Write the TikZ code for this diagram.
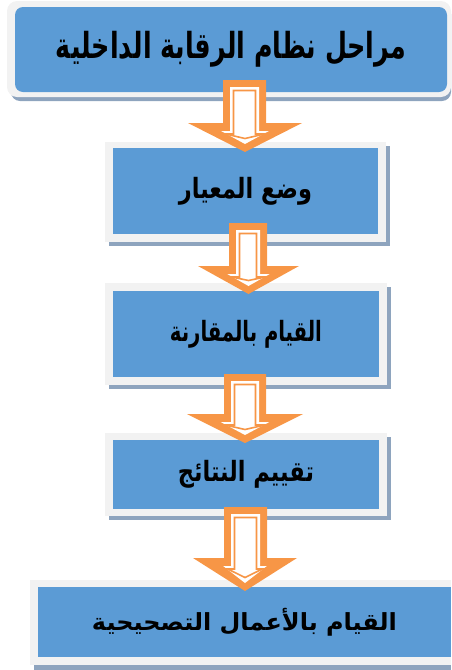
\documentclass[tikz,border=0pt]{standalone}
\usepackage{fontspec}
\usepackage{graphicx}
\TeXXeTstate=1
\newfontfamily\arabicfont[Script=Arabic]{DejaVu Sans}
\definecolor{boxblue}{HTML}{5B9BD5}
\definecolor{framegrey}{HTML}{F2F2F2}
\definecolor{shadowblue}{HTML}{8EA4BE}
\definecolor{arroworange}{HTML}{F79646}
\newcommand\fatarrow[7]{%
  \pgfmathsetmacro\arrc{(#5+#6)/2}%
  \pgfmathsetmacro\arrhw{0.42*(#6-#5)/2}%
  \fill[arroworange] (#1,#3) -- (#2,#3) -- (#2,#4) -- (#6,#4) -- (\arrc,#7) -- (#5,#4) -- (#1,#4) -- cycle;
  \fill[white] (#1+7,#3+7) -- (#2-7,#3+7) -- (#2-7,#4+8) -- (\arrc+\arrhw,#4+8) -- (\arrc,#7-8) -- (\arrc-\arrhw,#4+8) -- (#1+7,#4+8) -- cycle;
  \draw[arroworange,line width=1.6pt,fill=white,line join=miter] (#1+10.5,#3+10.5) -- (#2-10.5,#3+10.5) -- (#2-10.5,#4+11) -- (\arrc+\arrhw-4.5,#4+11) -- (\arrc,#7-13.5) -- (\arrc-\arrhw+4.5,#4+11) -- (#1+10.5,#4+11) -- cycle;
}
\begin{document}
\begin{tikzpicture}[x=1pt,y=-1pt,
  bluebox/.style={fill=boxblue,inner sep=0pt,text=black},
  frame/.style={fill=framegrey},
  shadow/.style={fill=shadowblue}]
\useasboundingbox (0,0) rectangle (451,670);
% top box
\fill[shadow,rounded corners=9pt] (11,5) rectangle (451,101);
\fill[frame,rounded corners=10pt] (7,1) rectangle (451,97);
\node[bluebox,rounded corners=8pt,minimum width=432pt,minimum height=85pt] (b1) at (231,49.5) {\resizebox*{350pt}{36pt}{\arabicfont\bfseries\beginR مراحل نظام الرقابة الداخلية\endR}};
% box 2
\fill[shadow] (109,146) rectangle (390,246);
\fill[frame] (105,142) rectangle (386,242);
\node[bluebox,minimum width=265pt,minimum height=86pt] (b2) at (245.5,191) {\resizebox*{133pt}{28pt}{\arabicfont\bfseries\beginR وضع المعيار\endR}};
% box 3
\fill[shadow] (109,287) rectangle (391,389);
\fill[frame] (105,283) rectangle (387,385);
\node[bluebox,minimum width=266pt,minimum height=86pt] (b3) at (246,334) {\resizebox*{152pt}{28pt}{\arabicfont\bfseries\beginR القيام بالمقارنة\endR}};
% box 4
\fill[shadow] (109,437) rectangle (391,520);
\fill[frame] (105,433) rectangle (387,516);
\node[bluebox,minimum width=266pt,minimum height=69pt] (b4) at (246,474.5) {\resizebox*{136pt}{28pt}{\arabicfont\bfseries\beginR تقييم النتائج\endR}};
% box 5
\fill[shadow] (34,584) rectangle (451,670);
\fill[frame] (30,580) rectangle (451,665);
\node[bluebox,minimum width=413pt,minimum height=70pt] (b5) at (244.5,622) {\resizebox*{305pt}{28pt}{\arabicfont\bfseries\beginR القيام بالأعمال التصحيحية\endR}};
% arrows
\fatarrow{223}{266}{80}{123}{188}{302}{152}
\fatarrow{229}{267}{223}{266}{198}{299}{294}
\fatarrow{224}{266}{374}{414}{187}{303}{443}
\fatarrow{224}{267}{507}{558}{193}{297}{591}
\end{tikzpicture}
\end{document}
